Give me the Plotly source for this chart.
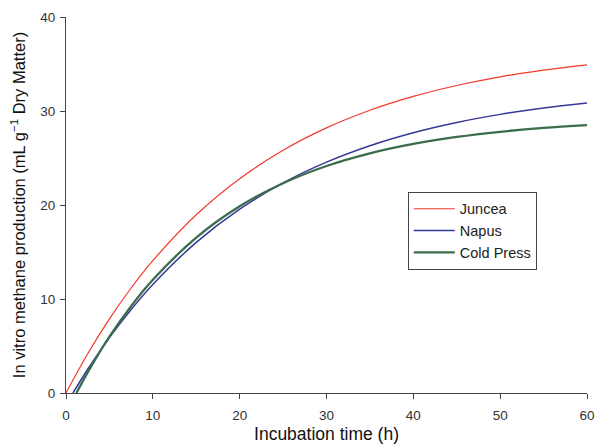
import plotly.graph_objects as go

# Values
t_juncea = [0, 2.5, 5, 7.5, 10, 15, 20, 25, 30, 35, 40, 45, 50, 55, 60]
juncea = [0, 4.18, 7.88, 11.17, 14.08, 18.96, 22.80, 25.83, 28.21, 30.08, 31.55, 32.71, 33.63, 34.34, 34.91]

t_napus = [0.8, 2.5, 5, 7.5, 10, 15, 20, 25, 30, 35, 40, 45, 50, 55, 60]
napus = [0, 2.53, 5.89, 8.89, 11.55, 16.02, 19.56, 22.35, 24.56, 26.31, 27.69, 28.78, 29.64, 30.32, 30.86]

t_cold = [1.2, 2.5, 5, 7.5, 10, 15, 20, 25, 30, 35, 40, 45, 50, 55, 60]
cold = [0, 2.20, 5.99, 9.24, 12.04, 16.53, 19.86, 22.32, 24.15, 25.50, 26.50, 27.24, 27.79, 28.20, 28.50]

x_ticks = [0, 10, 20, 30, 40, 50, 60]
y_ticks = [0, 10, 20, 30, 40]

fig = go.Figure()
fig.add_trace(go.Scatter(x=t_juncea, y=juncea, name="Juncea", mode="lines",
                         line=dict(color="#f2392c", width=1.2, shape="spline")))
fig.add_trace(go.Scatter(x=t_napus, y=napus, name="Napus", mode="lines",
                         line=dict(color="#37379a", width=1.5, shape="spline")))
fig.add_trace(go.Scatter(x=t_cold, y=cold, name="Cold Press", mode="lines",
                         line=dict(color="#3b6d4c", width=2.3, shape="spline")))

font_family = "Liberation Sans, Arial, sans-serif"
fig.update_layout(
    width=597, height=444,
    margin=dict(l=66, r=10, t=17, b=51),
    paper_bgcolor="white", plot_bgcolor="white",
    font=dict(family=font_family, color="#222", size=13),
    showlegend=True,
    legend=dict(x=0.656, y=0.535, xanchor="left", yanchor="top",
                bordercolor="#444", borderwidth=1, bgcolor="white",
                font=dict(size=14.5, color="#222"),
                tracegroupgap=0, itemwidth=41),
)
fig.update_xaxes(range=[0, 60], tickvals=x_ticks, showgrid=False, zeroline=False,
                 showline=True, linecolor="#444", linewidth=1, automargin=False,
                 ticks="outside", ticklen=5, tickcolor="#444", ticklabelstandoff=5,
                 tickfont=dict(size=13.5, color="#333"),
                 title=dict(text="Incubation time (h)", font=dict(size=17.5, color="#111"), standoff=8))
fig.update_yaxes(range=[0, 40], tickvals=y_ticks, showgrid=False, zeroline=False,
                 showline=True, linecolor="#444", linewidth=1, automargin=False,
                 ticks="outside", ticklen=5, tickcolor="#444", ticklabelstandoff=2,
                 tickfont=dict(size=13.5, color="#333"),
                 title=dict(text="In vitro methane production (mL g<sup>−1</sup> Dry Matter)",
                            font=dict(size=16.5, color="#111"), standoff=10))

fig.write_html("out.html", config={"displayModeBar": False},
               post_script="document.body.style.margin='0';")
